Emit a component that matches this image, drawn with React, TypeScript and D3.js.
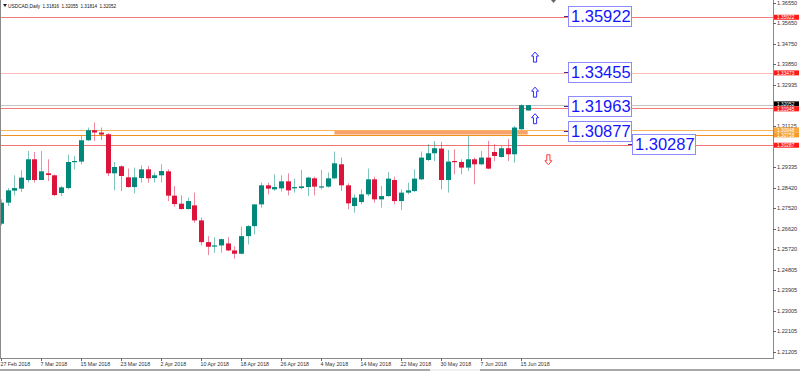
import * as d3 from "d3";

// daily USDCAD bars, 27 Feb 2018 .. 18 Jun 2018 (weekdays)
const opens = [
  1.26832, 1.27758, 1.28288, 1.28376, 1.28755, 1.29668, 1.28755, 1.29051, 1.28963, 1.28182,
  1.28402, 1.29549, 1.29567, 1.30506, 1.30948, 1.30846, 1.30771, 1.29051, 1.2936, 1.28874,
  1.28446, 1.28844, 1.29227, 1.28844, 1.28963, 1.29139, 1.28067, 1.27714, 1.27476, 1.27639,
  1.26978, 1.26021, 1.25831, 1.25875, 1.25963, 1.25654, 1.25509, 1.26285, 1.26726, 1.27683,
  1.28522, 1.28345, 1.28389, 1.28698, 1.28389, 1.28402, 1.28446, 1.2883, 1.28433, 1.28464,
  1.2883, 1.29448, 1.28522, 1.27609, 1.27785, 1.28125, 1.28786, 1.27904, 1.28049, 1.28755,
  1.27829, 1.282, 1.2827, 1.28786, 1.29637, 1.29933, 1.3014, 1.28755, 1.29593, 1.29549,
  1.29302, 1.29668, 1.29448, 1.29743, 1.2999, 1.2977, 1.30154, 1.29889, 1.30992, 1.31816,
];
const highs = [
  1.27904, 1.28402, 1.28963, 1.29183, 1.30035, 1.2999, 1.30035, 1.29668, 1.28993, 1.28491,
  1.29876, 1.29814, 1.30696, 1.31067, 1.31287, 1.31067, 1.30815, 1.29549, 1.29404, 1.29258,
  1.29302, 1.29404, 1.29373, 1.29082, 1.29448, 1.29227, 1.28491, 1.2808, 1.27979, 1.282,
  1.27097, 1.26285, 1.26241, 1.2617, 1.26241, 1.25844, 1.267, 1.2677, 1.27683, 1.28641,
  1.28641, 1.29007, 1.28963, 1.29051, 1.28817, 1.29196, 1.28905, 1.28905, 1.29196, 1.29082,
  1.30008, 1.29743, 1.2861, 1.28125, 1.28345, 1.29258, 1.28905, 1.28491, 1.29108, 1.28905,
  1.28345, 1.28641, 1.29227, 1.30008, 1.3033, 1.30476, 1.30432, 1.30079, 1.30109, 1.29668,
  1.30696, 1.29743, 1.30035, 1.30476, 1.3033, 1.30255, 1.30551, 1.31137, 1.32094, 1.32055,
];
const lows = [
  1.26757, 1.27609, 1.2808, 1.28226, 1.28641, 1.28641, 1.28755, 1.28711, 1.28049, 1.28049,
  1.28345, 1.29227, 1.29448, 1.30476, 1.30476, 1.3052, 1.28932, 1.28301, 1.2827, 1.2842,
  1.28169, 1.28641, 1.28641, 1.28641, 1.28641, 1.27829, 1.27582, 1.27463, 1.27463, 1.26876,
  1.25875, 1.25447, 1.25553, 1.25553, 1.25623, 1.25288, 1.25478, 1.25919, 1.2636, 1.27538,
  1.28125, 1.2827, 1.28244, 1.2808, 1.282, 1.28345, 1.28049, 1.2808, 1.28345, 1.2842,
  1.28786, 1.2827, 1.27463, 1.27317, 1.27683, 1.28049, 1.27758, 1.27538, 1.28023, 1.27683,
  1.27432, 1.28125, 1.28226, 1.28755, 1.29593, 1.29593, 1.28345, 1.282, 1.29007, 1.29007,
  1.29152, 1.28566, 1.29404, 1.29227, 1.29593, 1.29743, 1.29593, 1.29523, 1.30961, 1.31814,
];
const closes = [
  1.27758, 1.28301, 1.28402, 1.28861, 1.29668, 1.28755, 1.29139, 1.28976, 1.28094, 1.28433,
  1.29549, 1.29593, 1.30506, 1.30948, 1.30846, 1.30758, 1.29051, 1.29329, 1.28932, 1.28446,
  1.28874, 1.29227, 1.2883, 1.28963, 1.29152, 1.28067, 1.27697, 1.27476, 1.27829, 1.26978,
  1.26021, 1.25817, 1.25875, 1.26153, 1.25654, 1.25509, 1.26285, 1.26726, 1.27683, 1.28522,
  1.28376, 1.28446, 1.28698, 1.28301, 1.28446, 1.28477, 1.28861, 1.28464, 1.28477, 1.2883,
  1.29492, 1.28522, 1.27728, 1.27979, 1.28125, 1.28786, 1.27904, 1.28049, 1.28817, 1.27829,
  1.282, 1.28301, 1.28817, 1.29743, 1.29933, 1.30154, 1.28755, 1.29567, 1.29549, 1.29302,
  1.29668, 1.29448, 1.29743, 1.29258, 1.29814, 1.30154, 1.29889, 1.31067, 1.3205, 1.32052,
];

const headerValues = ["1.31816", "1.32055", "1.31814", "1.32052"];

const xTickIndex = [0, 6, 12, 18, 24, 30, 36, 42, 48, 54, 60, 66, 72, 78];
const xTickLabels = [
  "27 Feb 2018", "7 Mar 2018", "15 Mar 2018", "23 Mar 2018", "2 Apr 2018", "10 Apr 2018",
  "18 Apr 2018", "26 Apr 2018", "4 May 2018", "14 May 2018", "22 May 2018", "30 May 2018",
  "7 Jun 2018", "15 Jun 2018",
];
const yTickLabels = [
  "1.36550", "1.35650", "1.34750", "1.33850", "1.32935", "1.31125", "1.29335", "1.28420",
  "1.27520", "1.26620", "1.25720", "1.24805", "1.23905", "1.23005", "1.22105", "1.21205",
];

// horizontal lines drawn on the chart
const hLinePrices = [1.35922, 1.33473, 1.32052, 1.31945, 1.30948, 1.30758, 1.30287];
const hLineColors = ["#f07c7c", "#ffbcbc", "#c4c4c4", "#f07c7c", "#f9b25e", "#f0901e", "#f07474"];
const hLineTagColors = ["#ff1a1a", "#ff1a1a", "#000000", "#ff1a1a", "#f9a640", "#f39a2a", "#ff1a1a"];

// text label objects
const boxPrices = [1.35922, 1.33455, 1.31963, 1.30877, 1.30287];
const boxBars = [85.1, 85.1, 85.1, 85.1, 94.6];

const upArrowPrices = [1.34168, 1.32624, 1.31455];
const upArrowBars = [80.1, 80.1, 80.1];
const downArrowPrices = [1.29646];
const downArrowBars = [82.1];

const zoneTop = 1.30948;
const zoneBottom = 1.30758;
const zoneStartBar = 50;
const zoneEndBar = 79;

const W = 800;
const H = 371;
const plotRight = 773;
const plotBottom = 358;
const UP = "#00897b";
const DOWN = "#dc143c";
const FONT = "'Liberation Sans', Arial, sans-serif";
const TAG_H = 5;

export default function App() {
  const x = d3.scaleLinear().domain([0, 79]).range([1, 527.7]);
  const y = d3.scaleLinear().domain([1.3655, 1.21205]).range([3, 351.5]);
  const bars = d3.range(opens.length);
  const arrowUp = "M0,-5 L3.5,-1 L1.6,-1 L1.6,5 L-1.6,5 L-1.6,-1 L-3.5,-1 Z";
  const arrowDown = "M0,5 L3.5,1 L1.6,1 L1.6,-5 L-1.6,-5 L-1.6,1 L-3.5,1 Z";

  // spread price tags on the axis so neighbours don't sit on top of each other
  const tagY = hLinePrices.map((p) => y(p));
  for (let k = 1; k < tagY.length; k++) {
    const gap = tagY[k] - tagY[k - 1];
    if (gap < TAG_H) {
      const d = (TAG_H - gap) / 2;
      tagY[k - 1] -= d;
      tagY[k] += d;
    }
  }

  return (
    <svg
      width={W}
      height={H}
      style={{ position: "absolute", left: 0, top: 0, background: "#fff" }}
      fontFamily={FONT}
    >
      <defs>
        <clipPath id="plot">
          <rect x={1} y={0} width={plotRight - 1} height={plotBottom} />
        </clipPath>
      </defs>

      {/* header */}
      <path d="M3,4 L7,4 L5,7 Z" fill="#222" />
      <text x={8} y={8} fontSize={4.8} fill="#111">USDCAD,Daily</text>
      {headerValues.map((v, i) => (
        <text key={i} x={42.5 + i * 19} y={8} fontSize={4.6} fill="#111">
          {v}
        </text>
      ))}
      <path d="M551,0 L556,0 L553.5,3 Z" fill="#666" />

      <g clipPath="url(#plot)">
        {/* zone */}
        <rect
          x={x(zoneStartBar)}
          width={x(zoneEndBar) - x(zoneStartBar)}
          y={y(zoneTop)}
          height={y(zoneBottom) - y(zoneTop)}
          fill="#f9a26e"
        />
        {hLinePrices.map((p, i) => (
          <line
            key={i}
            x1={0}
            x2={plotRight}
            y1={Math.round(y(p)) + 0.5}
            y2={Math.round(y(p)) + 0.5}
            stroke={hLineColors[i]}
            strokeWidth={1}
          />
        ))}

        {/* candles */}
        {bars.map((i) => {
          const cx = Math.round(x(i));
          const up = closes[i] >= opens[i];
          const col = up ? UP : DOWN;
          const top = y(Math.max(opens[i], closes[i]));
          const bot = y(Math.min(opens[i], closes[i]));
          return (
            <g key={i}>
              <line
                x1={cx + 0.5}
                x2={cx + 0.5}
                y1={y(highs[i])}
                y2={y(lows[i])}
                stroke={col}
                strokeOpacity={0.5}
              />
              <rect x={cx - 2} width={5} y={top} height={Math.max(1.2, bot - top)} fill={col} />
            </g>
          );
        })}

        {/* arrows */}
        {upArrowPrices.map((p, i) => (
          <path
            key={"u" + i}
            d={arrowUp}
            transform={`translate(${x(upArrowBars[i])},${y(p)})`}
            fill="#fff"
            stroke="#2a2aff"
            strokeWidth={1}
          />
        ))}
        {downArrowPrices.map((p, i) => (
          <path
            key={"d" + i}
            d={arrowDown}
            transform={`translate(${x(downArrowBars[i])},${y(p)})`}
            fill="#fff"
            stroke="#ff3a3a"
            strokeWidth={1}
          />
        ))}

        {/* text labels */}
        {boxPrices.map((p, i) => {
          const bx = Math.round(x(boxBars[i]));
          const cy = y(p) - 1;
          return (
            <g key={"b" + i}>
              <line x1={bx - 4} x2={bx} y1={Math.round(cy) + 0.5} y2={Math.round(cy) + 0.5} stroke="#4b2a8a" />
              <rect
                x={bx + 0.5}
                y={Math.round(cy - 10) + 0.5}
                width={63}
                height={20}
                fill="#fff"
                stroke="#8c8cff"
                strokeWidth={1}
              />
              <text x={bx + 3} y={cy + 6} fontSize={16.5} fill="#1414ff">
                {p.toFixed(5)}
              </text>
            </g>
          );
        })}
      </g>

      {/* frame */}
      <line x1={0.5} x2={0.5} y1={0} y2={plotBottom} stroke="#8a8a8a" />
      <line x1={plotRight + 0.5} x2={plotRight + 0.5} y1={0} y2={plotBottom + 1} stroke="#8a8a8a" />
      <line x1={0} x2={plotRight + 1} y1={plotBottom + 0.5} y2={plotBottom + 0.5} stroke="#8a8a8a" />

      {/* price axis */}
      {yTickLabels.map((t, i) => {
        const yy = Math.round(y(+t)) + 0.5;
        return (
          <g key={"y" + i}>
            <line x1={plotRight} x2={plotRight + 3} y1={yy} y2={yy} stroke="#666" />
            <text x={777} y={yy + 1.5} fontSize={5.6} fill="#333">{t}</text>
          </g>
        );
      })}
      {hLinePrices.map((p, i) => (
        <g key={"tag" + i}>
          <rect x={plotRight + 1} y={tagY[i] - TAG_H / 2} width={25} height={TAG_H} fill={hLineTagColors[i]} />
          <text x={777} y={tagY[i] + 1.8} fontSize={4.8} fill="#fff">{p.toFixed(5)}</text>
        </g>
      ))}

      {/* time axis */}
      {xTickIndex.map((b, i) => {
        const xx = Math.round(x(b)) + 0.5;
        return (
          <g key={"x" + i}>
            <line x1={xx} x2={xx} y1={plotBottom} y2={plotBottom + 3} stroke="#666" />
            <text x={xx - 1} y={366} fontSize={5.3} fill="#333">{xTickLabels[i]}</text>
          </g>
        );
      })}

      {/* window bottom strip */}
      <rect x={0} y={369} width={W} height={2} fill="#a8a8a8" />
      <rect x={430} y={369} width={50} height={2} fill="#f0f0f0" />
    </svg>
  );
}
